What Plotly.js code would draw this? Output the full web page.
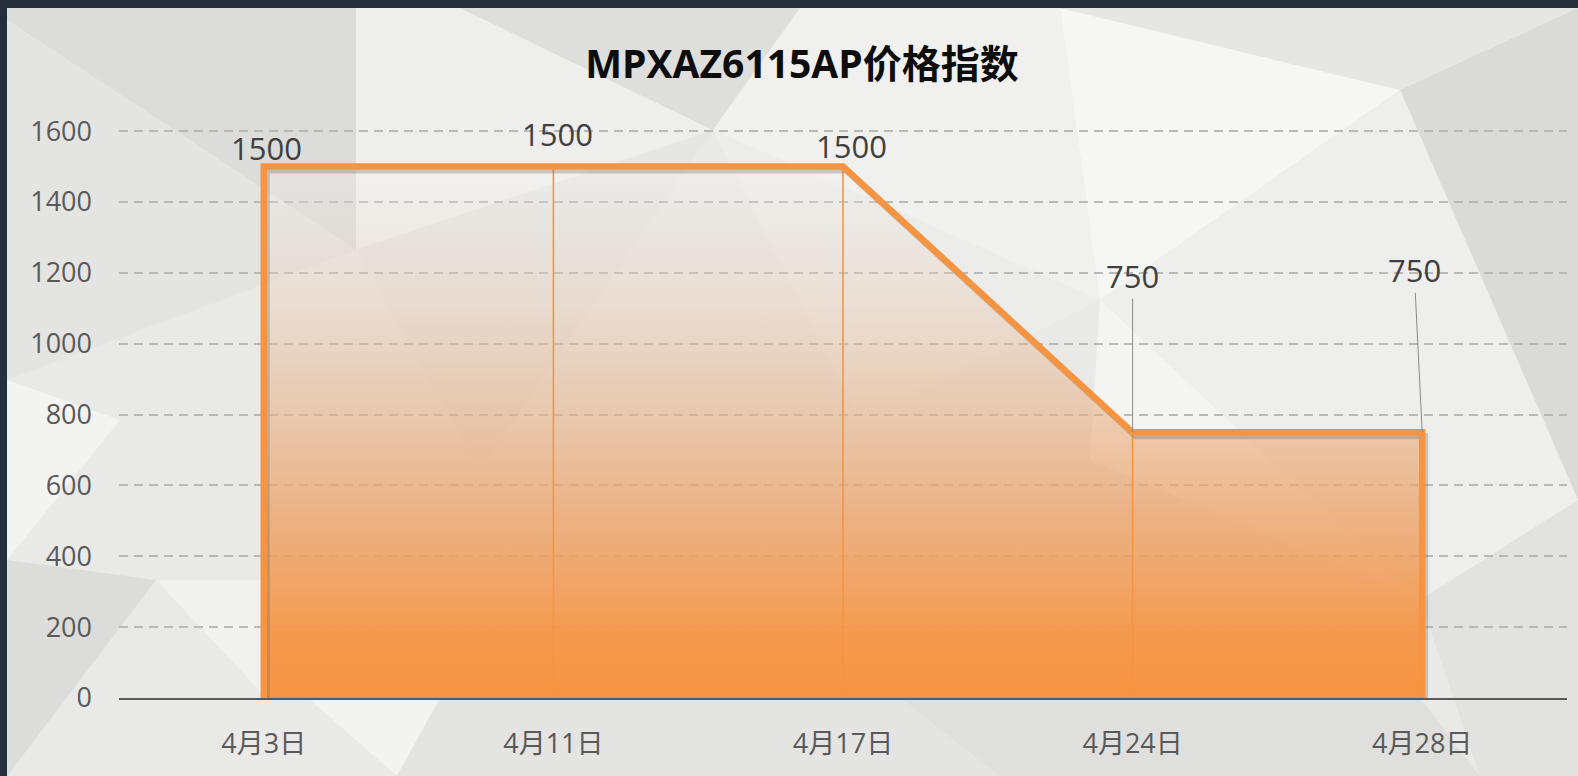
<!DOCTYPE html>
<html>
<head>
<meta charset="utf-8">
<script src="https://cdn.plot.ly/plotly-3.0.1.min.js"></script>
<style>
html,body{margin:0;padding:0;background:#252f3b;}
#chart{width:1578px;height:776px;}
</style>
</head>
<body>
<div id="chart"></div>
<script>
// ---- data ----
const categories = ['4月3日', '4月11日', '4月17日', '4月24日', '4月28日'];
const prices = [1500, 1500, 1500, 750, 750];
const yTickValues = [0, 200, 400, 600, 800, 1000, 1200, 1400, 1600];
const labelTexts = ['1500', '1500', '1500', '750', '750'];
const chartTitle = 'MPXAZ6115AP价格指数';

// ---- style ----
const W = 1578, H = 776;
const M = {l: 119, r: 11, t: 129, b: 78};
const orange = 'rgb(246,148,66)';
const fontLatin = '"Open Sans", "Noto Sans CJK SC", sans-serif';
const labelOffsets = [
  {xshift: 3, yshift: 19},
  {xshift: 4, yshift: 33},
  {xshift: 8, yshift: 21},
  {arrow: true, ax: 0, ay: -156},
  {arrow: true, ax: -8, ay: -162}
];

const pw = W - M.l - M.r, ph = H - M.t - M.b;
const xp = px => (px - M.l) / pw;
const yp = py => (H - M.b - py) / ph;
function poly(pts, color) {
  const d = pts.map((p, i) => (i ? 'L' : 'M') + xp(p[0]).toFixed(4) + ',' + yp(p[1]).toFixed(4)).join(' ') + ' Z';
  return {type: 'path', xref: 'paper', yref: 'paper', path: d, fillcolor: color, line: {width: 0}, layer: 'below'};
}

// background low-poly decoration
const shapes = [
  poly([[7, 8], [1578, 8], [1578, 776], [7, 776]], '#e9e9e7'),
  poly([[7, 8], [356, 8], [356, 250], [7, 20]], '#dcdcda'),
  poly([[7, 20], [356, 250], [7, 380]], '#e4e4e2'),
  poly([[356, 8], [460, 8], [713, 130], [356, 250]], '#eeeeec'),
  poly([[460, 8], [800, 8], [713, 130]], '#dededc'),
  poly([[800, 8], [1060, 8], [1100, 300], [713, 130]], '#f0f0ee'),
  poly([[1060, 8], [1400, 90], [1100, 300]], '#f6f6f4'),
  poly([[1060, 8], [1578, 8], [1400, 90]], '#e6e6e4'),
  poly([[1400, 90], [1578, 8], [1578, 500]], '#dadad8'),
  poly([[1400, 90], [1578, 500], [1420, 600], [1100, 300]], '#eeeeec'),
  poly([[1420, 600], [1578, 500], [1578, 776], [1480, 776]], '#e2e2e0'),
  poly([[7, 380], [120, 420], [7, 560]], '#f3f3f1'),
  poly([[7, 560], [156, 580], [7, 776]], '#dcdcda'),
  poly([[156, 580], [262, 580], [262, 698], [259, 690]], '#f1f1ef'),
  poly([[308, 698], [440, 698], [397, 776]], '#f3f3f1'),
  poly([[440, 698], [900, 698], [1000, 776], [397, 776]], '#e4e4e2'),
  poly([[900, 698], [1420, 698], [1480, 776], [1000, 776]], '#dfdfdd'),
  poly([[356, 250], [713, 130], [480, 470]], '#e6e6e4'),
  poly([[713, 130], [1100, 300], [860, 420]], '#ececea'),
  poly([[1100, 300], [1420, 600], [1090, 460]], '#f4f4f2')
];

// ---- traces ----
const outlineX = [categories[0]].concat(categories, [categories[categories.length - 1]]);
const outlineY = [0].concat(prices, [0]);
const dropX = [], dropY = [];
for (let i = 1; i < categories.length - 1; i++) {
  dropX.push(categories[i], categories[i], null);
  dropY.push(0, prices[i], null);
}

const fillTrace = {
  type: 'scatter', mode: 'lines', x: categories, y: prices,
  line: {width: 0, color: 'rgba(0,0,0,0)'},
  fill: 'tozeroy',
  fillgradient: {
    type: 'vertical',
    start: 0, stop: 1500,
    colorscale: [
      [0, 'rgba(246,148,66,1)'],
      [0.12, 'rgba(245,150,70,0.95)'],
      [0.35, 'rgba(236,163,106,0.78)'],
      [0.6, 'rgba(230,180,140,0.5)'],
      [0.85, 'rgba(236,214,196,0.28)'],
      [1, 'rgba(250,250,250,0.25)']
    ]
  },
  hoverinfo: 'skip', showlegend: false, xaxis: 'x', yaxis: 'y'
};
const dropTrace = {
  type: 'scatter', mode: 'lines', x: dropX, y: dropY,
  line: {width: 1.6, color: orange}, connectgaps: false,
  hoverinfo: 'skip', showlegend: false, xaxis: 'x', yaxis: 'y'
};
const shadowTrace = {
  type: 'scatter', mode: 'lines', x: outlineX, y: outlineY,
  line: {width: 6, color: 'rgba(90,90,90,0.28)'},
  hoverinfo: 'skip', showlegend: false, xaxis: 'x2', yaxis: 'y2'
};
const outlineTrace = {
  type: 'scatter', mode: 'lines', x: outlineX, y: outlineY,
  line: {width: 6.5, color: orange},
  hoverinfo: 'skip', showlegend: false, xaxis: 'x3', yaxis: 'y3'
};

// ---- labels ----
const annotations = categories.map((c, i) => {
  const o = labelOffsets[i];
  const a = {
    x: c, y: prices[i], xref: 'x', yref: 'y', text: labelTexts[i],
    font: {family: fontLatin, size: 31, color: '#404040'}
  };
  if (o.arrow) {
    Object.assign(a, {showarrow: true, ax: o.ax, ay: o.ay, arrowhead: 0, arrowwidth: 1,
      arrowcolor: '#8a8a8a', standoff: 0, startstandoff: 0});
  } else {
    Object.assign(a, {showarrow: false, xshift: o.xshift, yshift: o.yshift});
  }
  return a;
});

const xRange = [-0.5, categories.length - 0.5];
const yRange = [0, 1606];
const pxPerCat = pw / categories.length;
const pxPerY = ph / (yRange[1] - yRange[0]);
const sdx = 3 / pxPerCat, sdy = 4 / pxPerY;

const hiddenAxis = {visible: false, showgrid: false, zeroline: false, fixedrange: true};

const layout = {
  width: W, height: H,
  margin: M,
  paper_bgcolor: '#252f3b',
  plot_bgcolor: 'rgba(0,0,0,0)',
  showlegend: false,
  title: {
    text: chartTitle,
    x: 802 / W, xanchor: 'center',
    y: 1 - 64 / H, yanchor: 'middle',
    font: {family: fontLatin, size: 39, color: '#0d0d0d', weight: 'bold'}
  },
  xaxis: {
    type: 'category', categoryorder: 'array', categoryarray: categories,
    range: xRange, showgrid: false, zeroline: false,
    showline: true, linecolor: '#595959', linewidth: 1.5,
    ticks: '', ticklabelstandoff: 21,
    tickfont: {family: fontLatin, size: 27, color: '#595959'}
  },
  yaxis: {
    range: yRange, tickmode: 'array', tickvals: yTickValues,
    ticktext: yTickValues.map(String),
    showgrid: true, gridcolor: 'rgba(178,178,178,0.9)', gridwidth: 2, griddash: '9px,6px',
    zeroline: false, showline: false,
    ticks: '', ticklabelstandoff: 26,
    tickfont: {family: fontLatin, size: 27, color: '#595959'}
  },
  xaxis2: Object.assign({type: 'category', categoryorder: 'array', categoryarray: categories,
    overlaying: 'x', range: [xRange[0] - sdx, xRange[1] - sdx]}, hiddenAxis),
  yaxis2: Object.assign({overlaying: 'y', range: [yRange[0] + sdy, yRange[1] + sdy]}, hiddenAxis),
  xaxis3: Object.assign({type: 'category', categoryorder: 'array', categoryarray: categories,
    overlaying: 'x', range: xRange}, hiddenAxis),
  yaxis3: Object.assign({overlaying: 'y', range: yRange}, hiddenAxis),
  shapes: shapes,
  annotations: annotations
};

Plotly.newPlot('chart', [fillTrace, dropTrace, shadowTrace, outlineTrace], layout,
  {displayModeBar: false, staticPlot: true});
</script>
</body>
</html>
